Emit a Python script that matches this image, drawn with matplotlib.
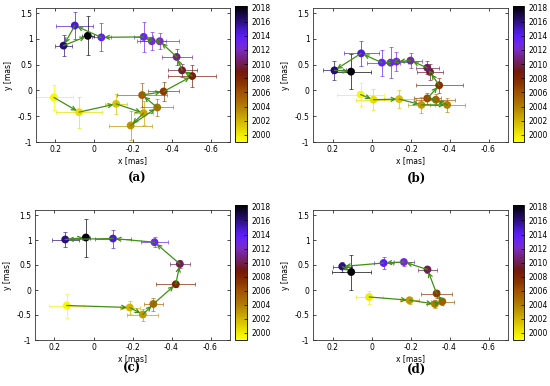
import numpy as np
import matplotlib
matplotlib.use("Agg")
import matplotlib.pyplot as plt
from matplotlib.colors import LinearSegmentedColormap, Normalize
from matplotlib.cm import ScalarMappable

# ---------------- data ----------------
years_a = [1999.5, 2000.5, 2001.5, 2002.5, 2003.2, 2004.5, 2005.5, 2007.0, 2008.5, 2009.5, 2011.0, 2012.0, 2012.5, 2013.0, 2013.5, 2014.7, 2016.2, 2018.0]
x_a = [0.208, 0.078, -0.113, -0.255, -0.188, -0.325, -0.247, -0.358, -0.505, -0.453, -0.425, -0.338, -0.297, -0.255, -0.037, 0.100, 0.158, 0.033]
y_a = [-0.135, -0.42, -0.26, -0.44, -0.68, -0.33, -0.09, -0.02, 0.28, 0.39, 0.65, 0.955, 0.955, 1.04, 1.03, 1.26, 0.87, 1.06]
xerr_a = [0.10, 0.12, 0.055, 0.05, 0.11, 0.08, 0.13, 0.08, 0.125, 0.075, 0.078, 0.10, 0.075, 0.05, 0.05, 0.095, 0.045, 0.03]
yerr_a = [0.25, 0.30, 0.20, 0.23, 0.29, 0.16, 0.24, 0.18, 0.22, 0.13, 0.15, 0.16, 0.17, 0.29, 0.27, 0.27, 0.20, 0.38]

years_b = [1999.5, 2000.5, 2001.5, 2003.0, 2004.0, 2005.3, 2006.3, 2007.5, 2009.5, 2010.2, 2011.5, 2012.5, 2013.0, 2013.5, 2014.5, 2016.2, 2018.0]
x_b = [0.056, -0.010, -0.142, -0.256, -0.388, -0.330, -0.286, -0.347, -0.300, -0.286, -0.200, -0.128, -0.098, -0.053, 0.053, 0.190, 0.105]
y_b = [-0.08, -0.18, -0.167, -0.28, -0.28, -0.18, -0.154, 0.10, 0.36, 0.44, 0.58, 0.56, 0.54, 0.54, 0.72, 0.39, 0.365]
xerr_b = [0.12, 0.09, 0.08, 0.07, 0.09, 0.10, 0.07, 0.12, 0.065, 0.06, 0.06, 0.06, 0.05, 0.075, 0.09, 0.06, 0.10]
yerr_b = [0.22, 0.20, 0.17, 0.16, 0.14, 0.11, 0.11, 0.14, 0.16, 0.13, 0.14, 0.19, 0.30, 0.25, 0.24, 0.19, 0.34]

years_c = [1999.5, 2002.0, 2003.0, 2005.0, 2008.0, 2010.0, 2013.0, 2014.5, 2016.0, 2018.0]
x_c = [0.137, -0.186, -0.253, -0.307, -0.422, -0.443, -0.313, -0.100, 0.145, 0.039]
y_c = [-0.31, -0.35, -0.49, -0.28, 0.115, 0.52, 0.955, 1.03, 1.01, 1.05]
xerr_c = [0.09, 0.05, 0.08, 0.05, 0.10, 0.05, 0.07, 0.09, 0.07, 0.02]
yerr_c = [0.24, 0.13, 0.12, 0.13, 0.05, 0.08, 0.10, 0.18, 0.15, 0.38]

years_d = [2000.0, 2003.0, 2004.0, 2005.5, 2007.0, 2010.0, 2012.5, 2014.0, 2016.0, 2018.0]
x_d = [0.012, -0.195, -0.325, -0.363, -0.334, -0.287, -0.166, -0.062, 0.150, 0.104]
y_d = [-0.14, -0.205, -0.28, -0.23, -0.07, 0.41, 0.56, 0.54, 0.47, 0.36]
xerr_d = [0.07, 0.05, 0.04, 0.06, 0.08, 0.05, 0.05, 0.05, 0.05, 0.10]
yerr_d = [0.13, 0.07, 0.08, 0.06, 0.08, 0.06, 0.07, 0.12, 0.10, 0.35]

panel_labels = ["(a)", "(b)", "(c)", "(d)"]
cbar_ticks = [2000, 2002, 2004, 2006, 2008, 2010, 2012, 2014, 2016, 2018]
x_ticks = [0.2, 0, -0.2, -0.4, -0.6]
y_ticks = [-1, -0.5, 0, 0.5, 1, 1.5]

# ---------------- style ----------------
cmap_years = [1999.0, 2000.0, 2001.0, 2002.0, 2003.0, 2004.0, 2005.0, 2006.0, 2007.0,
              2008.0, 2009.0, 2010.0, 2011.0, 2012.0, 2013.0, 2014.0, 2015.0, 2016.0, 2017.0, 2018.2]
cmap_cols = ["#ffff10", "#f0ec00", "#e0d000", "#d0b400", "#c09800", "#b07e00", "#a86600",
             "#a05200", "#8c3a00", "#802400", "#701810", "#702050", "#742484", "#7a2cc0",
             "#6c26ec", "#5a1ef4", "#4418c4", "#2c1080", "#180848", "#000000"]
vmin, vmax = 1999.0, 2018.2
cmap = LinearSegmentedColormap.from_list(
    "yrs", [((y - vmin) / (vmax - vmin), c) for y, c in zip(cmap_years, cmap_cols)])
norm = Normalize(vmin=vmin, vmax=vmax)

plt.rcParams['font.family'] = ['DejaVu Sans']
FS = 5.5

W, H = 550, 386
fig = plt.figure(figsize=(W / 100, H / 100), dpi=100)

def fr(l, t, r, b):
    return [l / W, 1 - b / H, (r - l) / W, (b - t) / H]

layout = [
    # axes rect, cbar rect, label pos
    (fr(36, 8, 230, 142), fr(235, 6, 247, 142), (137, 178)),
    (fr(313, 8, 508, 142), fr(513, 6, 524, 142), (417, 178)),
    (fr(35, 210, 230, 340), fr(235, 205, 247, 340), (132, 368)),
    (fr(313, 210, 508, 340), fr(513, 205, 524, 340), (416, 369)),
]

datasets = [
    (years_a, x_a, y_a, xerr_a, yerr_a),
    (years_b, x_b, y_b, xerr_b, yerr_b),
    (years_c, x_c, y_c, xerr_c, yerr_c),
    (years_d, x_d, y_d, xerr_d, yerr_d),
]

for (axr, cbr, lpos), (yrs, xs, ys, xe, ye), lab in zip(layout, datasets, panel_labels):
    ax = fig.add_axes(axr)
    cols = cmap(norm(np.array(yrs)))
    for i in range(len(xs)):
        ax.errorbar(xs[i], ys[i], xerr=xe[i], yerr=ye[i], fmt='none',
                    ecolor=cols[i], elinewidth=0.7, capsize=1.5, capthick=0.6,
                    alpha=0.7, zorder=2)
    ax.scatter(xs, ys, c=cols, s=32, zorder=3, edgecolors='none')
    for i in range(len(xs) - 1):
        ax.annotate('', xy=(xs[i + 1], ys[i + 1]), xytext=(xs[i], ys[i]),
                    arrowprops=dict(arrowstyle='->', color='#3f8f14', lw=0.9,
                                    shrinkA=0, shrinkB=2, mutation_scale=7),
                    zorder=4)
    ax.set_xlim(0.3, -0.7)
    ax.set_ylim(-1, 1.6)
    ax.set_xticks(x_ticks)
    ax.set_xticklabels(["0.2", "0", "-0.2", "-0.4", "-0.6"])
    ax.set_yticks(y_ticks)
    ax.set_yticklabels(["-1", "-0.5", "0", "0.5", "1", "1.5"])
    ax.tick_params(direction='in', top=True, right=True, labelsize=FS,
                   length=2.5, width=0.5, pad=2.5)
    for s in ax.spines.values():
        s.set_linewidth(0.6)
        s.set_color('#333333')
    ax.set_xlabel("x [mas]", fontsize=FS, labelpad=1)
    ax.set_ylabel("y [mas]", fontsize=FS, labelpad=3)

    cax = fig.add_axes(cbr)
    cb = fig.colorbar(ScalarMappable(norm=norm, cmap=cmap), cax=cax)
    cb.set_ticks(cbar_ticks)
    cb.ax.tick_params(labelsize=FS, direction='in', length=2, width=0.5, pad=3)
    cb.outline.set_linewidth(0.6)

    fig.text(lpos[0] / W, 1 - lpos[1] / H, lab, ha='center', va='center',
             fontsize=8.5, family='DejaVu Serif', fontweight='bold')

fig.savefig("out.png", dpi=100)
